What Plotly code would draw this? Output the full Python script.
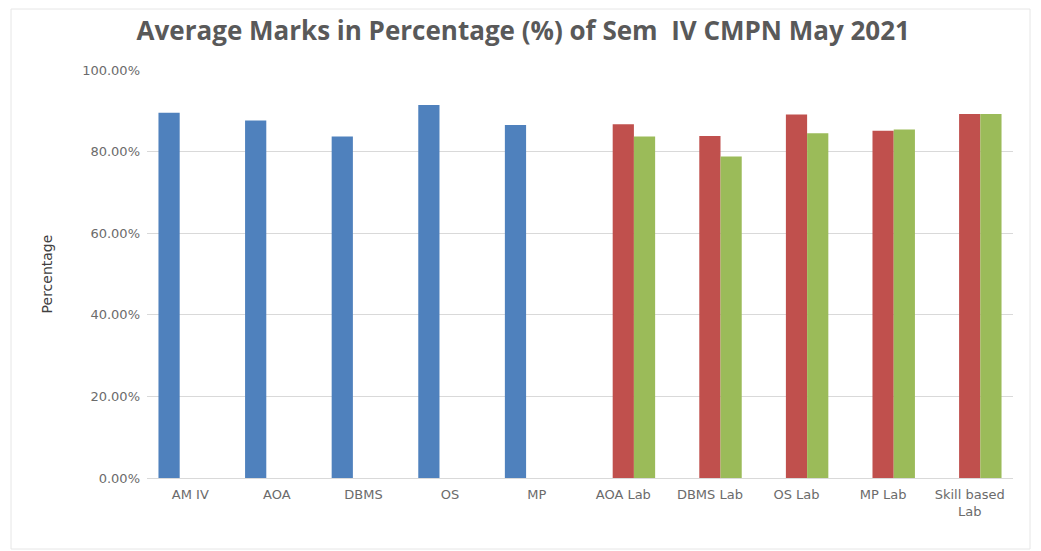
import plotly.graph_objects as go

categories = ["AM IV", "AOA", "DBMS", "OS", "MP",
              "AOA Lab", "DBMS Lab", "OS Lab", "MP Lab", "Skill based<br>Lab"]

# theory papers (blue), term work (red), oral / practical (green)
theory = [0.895, 0.876, 0.837, 0.914, 0.865, None, None, None, None, None]
term_work = [None, None, None, None, None, 0.867, 0.838, 0.891, 0.851, 0.892]
oral = [None, None, None, None, None, 0.837, 0.788, 0.845, 0.854, 0.892]

fig = go.Figure()
fig.add_trace(go.Bar(x=categories, y=theory, name="Theory", marker_color="#4F81BD"))
fig.add_trace(go.Bar(x=categories, y=term_work, name="Term Work", marker_color="#C0504D"))
fig.add_trace(go.Bar(x=categories, y=oral, name="Oral", marker_color="#9BBB59"))

fig.update_traces(marker_line_width=0)

# page body adds ~8px offset, margins compensate so the plot area lands at
# x 147..1013, y 70..478 in the screenshot
fig.update_layout(
    width=1041,
    height=551,
    barmode="group",
    bargap=0.265,
    bargroupgap=0,
    showlegend=False,
    plot_bgcolor="white",
    paper_bgcolor="white",
    margin=dict(l=139, r=36, t=62, b=81),
    font=dict(family="DejaVu Sans, sans-serif", size=13, color="#6B6B6B"),
    title=dict(
        text="<b>Average Marks in Percentage (%) of Sem  IV CMPN May 2021</b>",
        x=0.495,
        xref="container",
        xanchor="center",
        y=0.958,
        yref="container",
        yanchor="middle",
        font=dict(family="Open Sans, sans-serif", size=26, color="#595959"),
    ),
    xaxis=dict(
        showgrid=False,
        showline=True,
        linecolor="#D9D9D9",
        linewidth=1,
        ticks="",
        ticklabelstandoff=4,
        tickfont=dict(size=13, color="#6B6B6B"),
    ),
    yaxis=dict(
        range=[0, 1.0],
        dtick=0.2,
        tickformat=".2%",
        showgrid=True,
        gridcolor="#D9D9D9",
        zeroline=False,
        ticks="",
        ticklabelstandoff=6,
        tickfont=dict(size=13, color="#6B6B6B"),
        title=dict(text="Percentage", font=dict(size=14, color="#404040"), standoff=26),
    ),
)

# faint chart border like the spreadsheet chart area
fig.add_shape(
    type="rect",
    xref="paper", yref="paper",
    x0=(11 - 147) / 866, x1=(1030 - 147) / 866,
    y0=(478 - 549) / 408, y1=(478 - 9) / 408,
    line=dict(color="#E6E6E6", width=1),
    fillcolor="rgba(0,0,0,0)",
    layer="below",
)

fig.write_html("out.html")
